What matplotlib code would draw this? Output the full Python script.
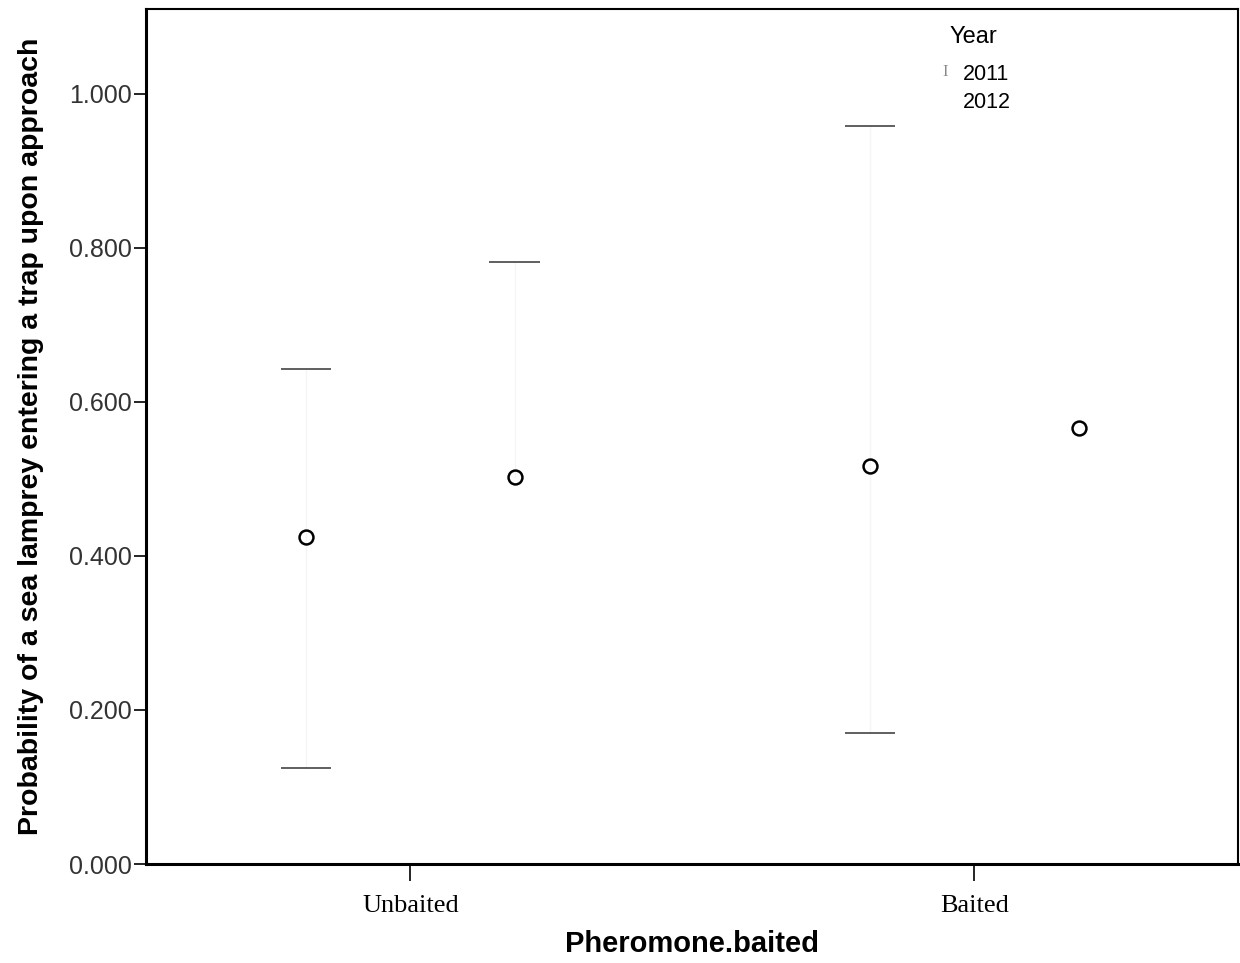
import numpy as np
import matplotlib
matplotlib.use("Agg")
import matplotlib.pyplot as plt

# Data
categories = ["Unbaited", "Baited"]
years = ["2011", "2012"]
means = {"2011": [0.425, 0.517], "2012": [0.503, 0.566]}
upper = {"2011": [0.642, 0.958], "2012": [0.781, np.nan]}
lower = {"2011": [0.125, 0.170], "2012": [np.nan, np.nan]}
yticks = [0.0, 0.2, 0.4, 0.6, 0.8, 1.0]

offsets = {"2011": -0.185, "2012": 0.185}
cap_half = 0.045

fig = plt.figure(figsize=(12.4, 9.63), dpi=100)
ax = fig.add_axes([0.1177, 0.1028, 0.8803, 0.8879])

x = np.arange(len(categories))
for yr in years:
    xs = x + offsets[yr]
    m = np.array(means[yr])
    hi = np.array(upper[yr])
    lo = np.array(lower[yr])
    # whiskers are almost washed out in the original
    for xi, mi, h, l in zip(xs, m, hi, lo):
        if not np.isnan(h):
            ax.plot([xi, xi], [mi, h], color="#f5f5f5", lw=1, zorder=1)
        if not np.isnan(l):
            ax.plot([xi, xi], [l, mi], color="#f5f5f5", lw=1, zorder=1)
    # caps
    ax.hlines(hi, xs - cap_half, xs + cap_half, color="#444444", lw=1.2, zorder=2)
    ax.hlines(lo, xs - cap_half, xs + cap_half, color="#444444", lw=1.2, zorder=2)
    ax.plot(xs, m, "o", ms=10, mfc="none", mec="black", mew=1.8, zorder=3)

ax.set_xlim(-0.469, 1.467)
ax.set_ylim(0, 1.110)
ax.set_xticks(x)
ax.set_xticklabels(categories, family="Liberation Serif", fontsize=19)
ax.set_yticks(yticks)
ax.set_yticklabels(["%.3f" % v for v in yticks], family="Liberation Sans",
                   fontsize=18, color="#333333")
ax.tick_params(axis="y", direction="out", length=9, width=1.2, pad=1)
ax.tick_params(axis="x", direction="out", length=12, width=1.2, pad=10)

for side in ["left", "bottom"]:
    ax.spines[side].set_linewidth(2.2)
for side in ["top", "right"]:
    ax.spines[side].set_linewidth(1.5)

ax.set_xlabel("Pheromone.baited", family="Liberation Sans", fontweight="bold",
              fontsize=21, labelpad=10)
ax.set_ylabel("Probability of a sea lamprey entering a trap upon approach",
              family="Liberation Sans", fontweight="bold", fontsize=20.5, labelpad=18)

# legend drawn as text
ax.text(0.736, 0.967, "Year", transform=ax.transAxes, fontsize=17,
        family="Liberation Sans", ha="left", va="center")
ax.text(0.748, 0.923, "2011", transform=ax.transAxes, fontsize=15.5,
        family="Liberation Sans", ha="left", va="center")
ax.text(0.748, 0.891, "2012", transform=ax.transAxes, fontsize=15.5,
        family="Liberation Sans", ha="left", va="center")
ax.text(0.7326, 0.926, "I", transform=ax.transAxes, fontsize=12,
        family="Liberation Serif", color="#888888", ha="center", va="center")

fig.savefig("out.png", dpi=100)
